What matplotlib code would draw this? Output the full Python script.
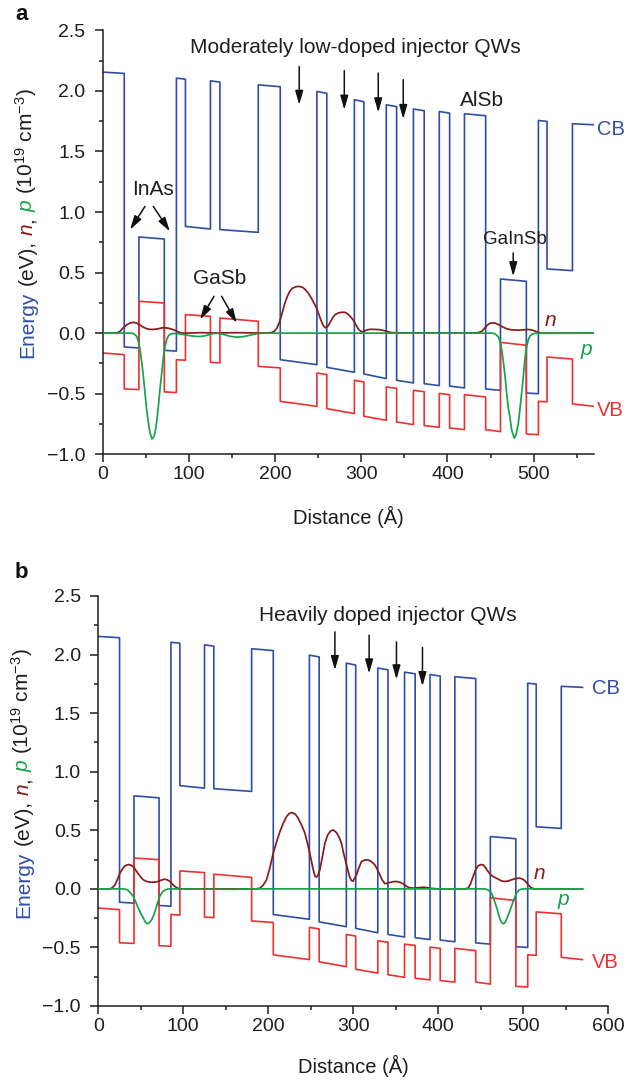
import matplotlib
matplotlib.use("Agg")
import matplotlib.pyplot as plt
from matplotlib.ticker import MultipleLocator, FuncFormatter

plt.rcParams['font.family'] = ['Liberation Sans', 'DejaVu Sans']
plt.rcParams['mathtext.fontset'] = 'custom'
plt.rcParams['mathtext.rm'] = 'Liberation Sans'
plt.rcParams['mathtext.it'] = 'Liberation Sans:italic'
plt.rcParams['mathtext.bf'] = 'Liberation Sans:bold'

# ---------------- data ----------------
# layer boundaries (Angstrom) and band edges at start / end of each layer (eV)
layer_edges = [0, 25, 42, 71.5, 85.5, 96, 125, 136, 180.5, 206, 248.5, 260, 292, 303,
               329, 341, 360.5, 373, 390.5, 402.5, 419.7, 444.3, 461.5, 491.5, 505.5,
               515.5, 545, 570]
cb_start = [2.155, -0.114, 0.794, -0.142, 2.105, 0.881, 2.083, 0.855, 2.050, -0.219,
            1.995, -0.282, 1.927, -0.337, 1.885, -0.389, 1.850, -0.417, 1.830, -0.437,
            1.811, -0.461, 0.447, -0.494, 1.756, 0.530, 1.729]
cb_end = [2.144, -0.122, 0.777, -0.148, 2.097, 0.860, 2.072, 0.832, 2.034, -0.260,
          1.980, -0.323, 1.910, -0.375, 1.870, -0.411, 1.836, -0.433, 1.816, -0.452,
          1.795, -0.472, 0.428, -0.500, 1.748, 0.516, 1.720]
vb_start = [-0.164, -0.460, 0.263, -0.485, -0.219, 0.153, -0.241, 0.125, -0.274, -0.563,
            -0.329, -0.623, -0.389, -0.686, -0.444, -0.733, -0.472, -0.763, -0.497, -0.783,
            -0.508, -0.796, -0.076, -0.832, -0.563, -0.197, -0.584]
vb_end = [-0.177, -0.466, 0.249, -0.490, -0.224, 0.139, -0.245, 0.098, -0.287, -0.604,
          -0.342, -0.664, -0.403, -0.719, -0.455, -0.755, -0.483, -0.777, -0.508, -0.796,
          -0.527, -0.813, -0.100, -0.838, -0.567, -0.213, -0.604]

# panel a: electron (n) and hole (p) densities
n_a_x = [0, 14, 17, 20, 24, 28, 32, 35.5, 39, 43, 47, 51, 55, 59, 64, 68.5, 72, 76, 80, 84, 87,
         90, 95, 105, 115, 125, 135, 145, 155, 165, 175, 185, 192, 196, 199, 202, 205, 208,
         211, 214, 217, 220, 224, 228, 232, 235, 238.5, 242, 245, 248.5, 252, 255, 258, 261,
         264, 267, 270, 274, 278, 281, 284, 287, 290.5, 294, 297, 300, 303, 307, 311, 315,
         319, 323, 327, 331, 335, 340, 360, 380, 400, 420, 432, 436, 440, 443, 446, 449, 452,
         455, 458, 461, 465, 469, 473, 477, 481, 485, 489, 493, 497, 501, 504, 507, 510, 570]
n_a = [0, 0, 0.003, 0.015, 0.045, 0.07, 0.085, 0.089, 0.084, 0.068, 0.05, 0.037, 0.031,
       0.031, 0.036, 0.043, 0.045, 0.041, 0.033, 0.023, 0.012, 0.003, 0, 0.002, 0.004,
       0.002, 0.001, 0.003, 0.004, 0.003, 0.002, 0.001, 0.002, 0.005, 0.015, 0.04, 0.09,
       0.16, 0.24, 0.30, 0.345, 0.37, 0.383, 0.386, 0.378, 0.36, 0.33, 0.29, 0.25, 0.2,
       0.13, 0.075, 0.045, 0.055, 0.09, 0.13, 0.155, 0.168, 0.173, 0.172, 0.16, 0.14,
       0.11, 0.065, 0.03, 0.012, 0.015, 0.028, 0.032, 0.031, 0.03, 0.027, 0.02, 0.012,
       0.005, 0.003, 0.002, 0.002, 0.001, 0.001, 0.002, 0.005, 0.016, 0.04, 0.065, 0.08,
       0.085, 0.083, 0.075, 0.063, 0.048, 0.036, 0.029, 0.026, 0.025, 0.026, 0.028, 0.03,
       0.028, 0.019, 0.01, 0.004, 0, 0]
p_a_x = [0, 33, 36, 39.4, 41.5, 43.3, 45.3, 47.2, 49, 51, 53, 54.9, 57.2, 59, 60.7, 62.7,
         64.6, 66.5, 68.5, 70.4, 72.3, 74.2, 76.2, 79, 82, 90, 96, 101, 107, 113, 119, 124.5,
         129, 134, 140, 147, 155.5, 162, 168, 175, 182.5, 190, 452, 455, 459, 461, 462.9,
         464.9, 466.8, 468.6, 470.6, 472.6, 474.5, 477.5, 479.5, 482.2, 484.2, 487.3, 490,
         491.9, 493.8, 495.8, 498.6, 502, 570]
p_a = [0, 0, -0.004, -0.026, -0.07, -0.136, -0.24, -0.356, -0.49, -0.631, -0.74, -0.824,
       -0.873, -0.86, -0.824, -0.73, -0.603, -0.46, -0.33, -0.2, -0.11, -0.055, -0.022,
       -0.007, -0.002, -0.006, -0.014, -0.021, -0.026, -0.028, -0.021, -0.01, -0.003,
       -0.002, -0.01, -0.025, -0.033, -0.03, -0.022, -0.01, -0.002, 0, 0, -0.004, -0.03,
       -0.07, -0.136, -0.24, -0.356, -0.49, -0.62, -0.70, -0.80, -0.866, -0.84, -0.745,
       -0.62, -0.41, -0.2, -0.11, -0.055, -0.022, -0.007, -0.001, 0]

# panel b: electron (n) and hole (p) densities
n_b_x = [0, 13.8, 16.5, 19.6, 22.5, 25.5, 28.5, 31.4, 34, 36.1, 38.5, 41.2, 44, 47.1, 50, 53,
         57, 60.8, 64.5, 68.7, 72.5, 76, 78.5, 81.5, 84.3, 87, 90.2, 93, 96.1, 150, 186,
         190.2, 194, 198, 202, 205.9, 209.8, 213.8, 217.7, 221.6, 225, 228.3, 231.8, 235.3,
         239.2, 243.2, 246.5, 249.8, 252.5, 254.9, 256.9, 258.8, 260.8, 263.7, 266.7, 270,
         273.5, 276.5, 280.4, 283.5, 286.3, 288.2, 291, 294.1, 296, 298, 300, 303.9, 306.8,
         309.8, 313.7, 317.6, 321.5, 325.5, 328.5, 331.4, 334.3, 337.3, 340, 343.1, 347, 351,
         355, 358.8, 361.7, 364.7, 368, 372, 377, 382.4, 386, 390.2, 395, 400, 432, 435.3,
         438, 441.2, 444, 447.1, 450, 453, 456, 458.8, 462, 465, 468.6, 472, 475, 478.4, 482,
         486.3, 490, 493, 496.1, 499, 502, 505, 507.9, 510.5, 513.8, 570]
n_b = [0, 0, 0.01, 0.034, 0.08, 0.134, 0.17, 0.196, 0.205, 0.207, 0.202, 0.19, 0.16, 0.128,
       0.1, 0.077, 0.063, 0.057, 0.057, 0.06, 0.07, 0.079, 0.082, 0.076, 0.063, 0.042, 0.02,
       0.007, 0, 0, 0, 0.006, 0.03, 0.077, 0.18, 0.304, 0.4, 0.489, 0.56, 0.617, 0.645,
       0.651, 0.638, 0.603, 0.545, 0.476, 0.38, 0.276, 0.18, 0.11, 0.1, 0.12, 0.162, 0.27,
       0.389, 0.46, 0.495, 0.503, 0.48, 0.44, 0.389, 0.32, 0.24, 0.15, 0.1, 0.071, 0.066,
       0.12, 0.18, 0.234, 0.246, 0.247, 0.233, 0.205, 0.165, 0.12, 0.075, 0.045, 0.047,
       0.054, 0.061, 0.063, 0.056, 0.043, 0.028, 0.014, 0.008, 0.006, 0.01, 0.014, 0.012,
       0.006, 0.002, 0, 0, 0.006, 0.04, 0.105, 0.16, 0.196, 0.207, 0.205, 0.18, 0.148, 0.12,
       0.104, 0.091, 0.078, 0.067, 0.063, 0.066, 0.077, 0.085, 0.09, 0.091, 0.085, 0.071,
       0.045, 0.02, 0.006, 0, 0]
p_b_x = [0, 29.4, 32.5, 35.3, 38, 41.2, 44, 47.1, 50, 53, 55.5, 57.7, 60, 62.8, 65.5, 67.9,
         70.2, 72.6, 75.5, 78.5, 81, 84.3, 140, 160, 180, 455, 457, 460, 462.9, 465.8, 468.6,
         470.5, 472.5, 474.5, 476.4, 478.5, 480.4, 483.3, 486.3, 489.2, 492.2, 495, 498, 502,
         570]
p_b = [0, 0, -0.004, -0.014, -0.035, -0.065, -0.11, -0.165, -0.21, -0.25, -0.285, -0.298,
       -0.29, -0.264, -0.22, -0.165, -0.11, -0.06, -0.027, -0.009, -0.003, 0, -0.003,
       -0.004, 0, 0, -0.004, -0.015, -0.037, -0.09, -0.151, -0.2, -0.25, -0.283, -0.298,
       -0.29, -0.264, -0.21, -0.151, -0.09, -0.037, -0.012, -0.002, 0, 0]

# tick labels
xticks_a = [0, 100, 200, 300, 400, 500]
xticks_b = [0, 100, 200, 300, 400, 500, 600]

# annotation positions (Angstrom, eV)
inj_a_x = [228, 280.3, 319.7, 348.7]
inj_a_top = [2.20, 2.168, 2.147, 2.092]
inj_a_bot = [1.884, 1.844, 1.822, 1.767]
inj_b_x = [278.5, 318.8, 351, 381.6]
inj_b_top = [2.194, 2.165, 2.108, 2.06]
inj_b_bot = [1.867, 1.838, 1.788, 1.73]

# ---------------- styling ----------------
CB_C = '#2f4ea6'
VB_C = '#ee3030'
N_C = '#8b1a1a'
P_C = '#16a34a'
TXT = '#1e1e1e'

W, H = 637, 1082
fig = plt.figure(figsize=(W / 100, H / 100), dpi=100)


def fx(px):
    return px / W


def fy(py):
    return 1 - py / H


axA = fig.add_axes([fx(102.7), fy(454.3), (594 - 102.7) / W, (454.3 - 30.3) / H])
axB = fig.add_axes([fx(98.3), fy(1006), (608 - 98.3) / W, (1006 - 596) / H])


def band_path(edges, start, end):
    xs, ys = [], []
    for i in range(len(start)):
        xs += [edges[i], edges[i + 1]]
        ys += [start[i], end[i]]
    return xs, ys


def style(ax, xmax, xticks):
    ax.set_xlim(0, xmax)
    ax.set_ylim(-1.0, 2.5)
    for s in ['top', 'right']:
        ax.spines[s].set_visible(False)
    for s in ['left', 'bottom']:
        ax.spines[s].set_linewidth(1.1)
        ax.spines[s].set_color(TXT)
    ax.set_xticks(xticks)
    ax.xaxis.set_minor_locator(MultipleLocator(50))
    ax.yaxis.set_major_locator(MultipleLocator(0.5))
    ax.yaxis.set_minor_locator(MultipleLocator(0.25))
    ax.tick_params(which='both', direction='out', width=1.1, colors=TXT, labelsize=14)
    ax.tick_params(which='major', length=5.5)
    ax.tick_params(which='minor', length=3.2)
    ax.tick_params(axis='y', which='both', pad=7)
    ax.tick_params(axis='x', which='both', pad=3)
    ax.yaxis.set_major_formatter(FuncFormatter(lambda v, p: f"{v:.1f}".replace('-', '\u2212')))


def draw_panel(ax, nx, ny, px_, py_, xmax, xticks):
    cx, cy = band_path(layer_edges, cb_start, cb_end)
    vx, vy = band_path(layer_edges, vb_start, vb_end)
    ax.plot(cx, cy, color=CB_C, lw=1.2, zorder=2)
    ax.plot(vx, vy, color=VB_C, lw=1.2, zorder=2)
    ax.plot(nx, ny, color=N_C, lw=1.25, zorder=3)
    ax.plot(px_, py_, color=P_C, lw=1.25, zorder=4)
    style(ax, xmax, xticks)


def arrow(ax, x0, y0, x1, y1):
    ax.annotate('', xy=(x1, y1), xytext=(x0, y0),
                arrowprops=dict(arrowstyle='-|>,head_length=0.6,head_width=0.17',
                                color='#111111', lw=1.1, shrinkA=0, shrinkB=0,
                                mutation_scale=14), zorder=5)


draw_panel(axA, n_a_x, n_a, p_a_x, p_a, 570, xticks_a)
draw_panel(axB, n_b_x, n_b, p_b_x, p_b, 600, xticks_b)

# panel a annotations
axA.text(292.7, 2.356, 'Moderately low-doped injector QWs', ha='center', va='center',
         fontsize=15, color=TXT)
for x, t, b in zip(inj_a_x, inj_a_top, inj_a_bot):
    arrow(axA, x, t, x, b)
axA.text(439.7, 1.917, 'AlSb', ha='center', va='center', fontsize=15, color=TXT)
axA.text(57.8, 1.184, 'InAs', ha='center', va='center', fontsize=15, color=TXT)
arrow(axA, 49, 1.046, 31.7, 0.854)
arrow(axA, 58.7, 1.046, 78, 0.84)
axA.text(135.7, 0.45, 'GaSb', ha='center', va='center', fontsize=15, color=TXT)
arrow(axA, 129.1, 0.304, 112.9, 0.111)
arrow(axA, 138, 0.304, 155.5, 0.084)
axA.text(478.3, 0.77, 'GaInSb', ha='center', va='center', fontsize=13.5, color=TXT)
arrow(axA, 476.3, 0.662, 476.3, 0.469)
axA.text(573.4, 1.68, 'CB', ha='left', va='center', fontsize=14.5, color=CB_C)
axA.text(573.4, -0.64, 'VB', ha='left', va='center', fontsize=14.5, color=VB_C)
axA.text(513, 0.103, 'n', ha='left', va='center', fontsize=15, color=N_C, style='italic')
axA.text(554.5, -0.136, 'p', ha='left', va='center', fontsize=15, color=P_C, style='italic')

# panel b annotations
axB.text(340.8, 2.336, 'Heavily doped injector QWs', ha='center', va='center',
         fontsize=15, color=TXT)
for x, t, b in zip(inj_b_x, inj_b_top, inj_b_bot):
    arrow(axB, x, t, x, b)
axB.text(580.8, 1.714, 'CB', ha='left', va='center', fontsize=14.5, color=CB_C)
axB.text(580.8, -0.631, 'VB', ha='left', va='center', fontsize=14.5, color=VB_C)
axB.text(512.6, 0.128, 'n', ha='left', va='center', fontsize=15, color=N_C, style='italic')
axB.text(541, -0.094, 'p', ha='left', va='center', fontsize=15, color=P_C, style='italic')

# x labels
fig.text(fx(348), fy(517), 'Distance (Å)', ha='center', va='center', fontsize=14.5, color=TXT)
fig.text(fx(353), fy(1066), 'Distance (Å)', ha='center', va='center', fontsize=14.5, color=TXT)

# panel letters
fig.text(fx(15), fy(14), 'a', ha='left', va='center', fontsize=16, fontweight='bold', color='#111')
fig.text(fx(15), fy(573), 'b', ha='left', va='center', fontsize=16, fontweight='bold', color='#111')

# multicolour y labels
renderer = fig.canvas.get_renderer()


def ylabel_multi(x_base_px, center_px, fs=15):
    pieces = [("Energy", CB_C, 'normal', True),
              ("(eV),", TXT, 'normal', True),
              ("n", N_C, 'italic', False),
              (",", TXT, 'normal', True),
              ("p", P_C, 'italic', True),
              ("(10$^{19}$ cm$^{-3}$)", TXT, 'normal', False)]
    gap = 0.278 * fs * 100 / 72
    texts, lengths = [], []
    for s, c, st, g in pieces:
        t = fig.text(0, 0, s, rotation=90, rotation_mode='anchor', ha='left',
                     va='baseline', fontsize=fs, color=c, style=st)
        bb = t.get_window_extent(renderer)
        texts.append(t)
        lengths.append(bb.height)
    total = sum(lengths) + gap * sum(1 for p in pieces if p[3])
    y = (H - center_px) - total / 2
    for t, L, p in zip(texts, lengths, pieces):
        t.set_position((x_base_px / W, y / H))
        y += L + (gap if p[3] else 0)


ylabel_multi(33, 223)
ylabel_multi(29, 783)

fig.savefig('out.png', dpi=100)
